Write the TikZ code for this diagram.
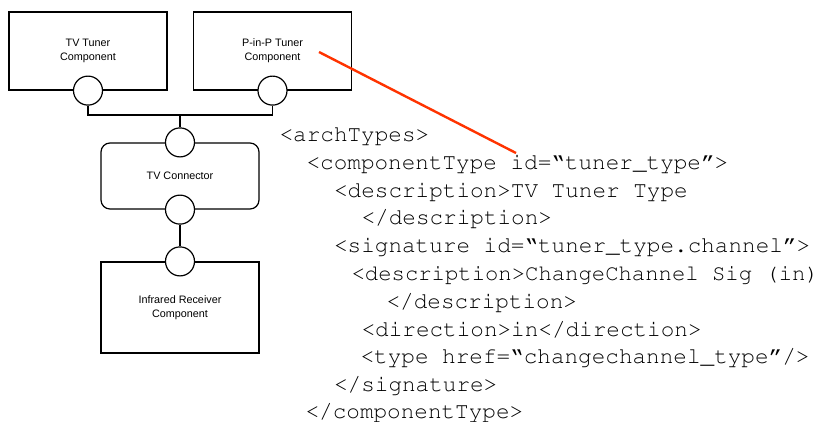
\documentclass[tikz,border=0pt]{standalone}
\usepackage[T1]{fontenc}
\usepackage{fontspec}
\newfontfamily\labelfont{Liberation Sans}
% Courier (URW Nimbus Mono) for the XML listing
\newcommand\xmlfont{\fontencoding{T1}\fontfamily{pcr}\fontseries{m}\fontshape{n}\fontsize{22.67}{27.8}\selectfont}
\newcommand\xmlfontsmall{\fontencoding{T1}\fontfamily{pcr}\fontseries{m}\fontshape{n}\fontsize{22.25}{27.8}\selectfont}
\newcommand\xq{\textquotedblleft}
\newcommand\xqq{\textquotedblright}
\definecolor{linkred}{HTML}{FF3300}
\begin{document}
\begin{tikzpicture}[x=1pt,y=-1pt,
  line width=1.2pt,
  comp/.style={draw=black, fill=white, minimum width=158pt, inner sep=0pt,
    align=center, font=\labelfont\fontsize{10.8}{14.3}\selectfont},
  conn/.style={comp, rounded corners=9pt},
  port/.style={draw=black, fill=white, circle, minimum size=29pt, inner sep=0pt},
  wire/.style={draw=black, line width=1.2pt},
  code/.style={anchor=base west, inner sep=0pt, font=\xmlfont}]
\useasboundingbox (0,0) rectangle (821,421);

% components and connector
\node[comp, minimum height=78pt] (tv)  at (88,51)  {TV Tuner\\Component};
\node[comp, minimum height=78pt] (pip) at (272.5,51) {P-in-P Tuner\\Component};
\node[conn, minimum height=66pt] (tvc) at (180,176) {TV Connector};
\node[comp, minimum height=91pt] (ir)  at (180,307.5) {Infrared Receiver\\Component};

% ports
\node[port] (tvp)   at (tv.south) {};
\node[port] (pipp)  at (pip.south) {};
\node[port] (tvcin) at (tvc.north) {};
\node[port] (tvcout) at (tvc.south) {};
\node[port] (irp)   at (ir.north) {};

% bus joining the tuner ports to the connector
\coordinate (bus) at (180,115);
\draw[wire] (tvp.south) |- (bus) -| (pipp.south);
\draw[wire] (bus) -- (tvcin.north);
\draw[wire] (tvcout.south) -- (irp.north);

% architecture description
\node[code] (l1)  at (279,141.5) {<archTypes>};
\node[code] (l2)  at (306,169.3) {<componentType id=\xq tuner\_type\xqq>};
\node[code] (l3)  at (333.5,197.1) {<description>TV Tuner Type};
\node[code] (l4)  at (361,224.9) {</description>};
\node[code] (l5)  at (333.5,252.7) {<signature id=\xq tuner\_type.channel\xqq>};
\node[code, font=\xmlfontsmall] (l6) at (351,280.5) {<description>ChangeChannel Sig (in)};
\node[code] (l7)  at (386,308.3) {</description>};
\node[code] (l8)  at (361,336.1) {<direction>in</direction>};
\node[code] (l9)  at (360,363.9) {<type href=\xq changechannel\_type\xqq/>};
\node[code] (l10) at (333.5,391.7) {</signature>};
\node[code] (l11) at (305,418) {</componentType>};

% link from the tuner component to its type
\coordinate (idref) at (516,153);
\draw[linkred, line width=2.4pt] (319,52) -- (idref);
\end{tikzpicture}
\end{document}
